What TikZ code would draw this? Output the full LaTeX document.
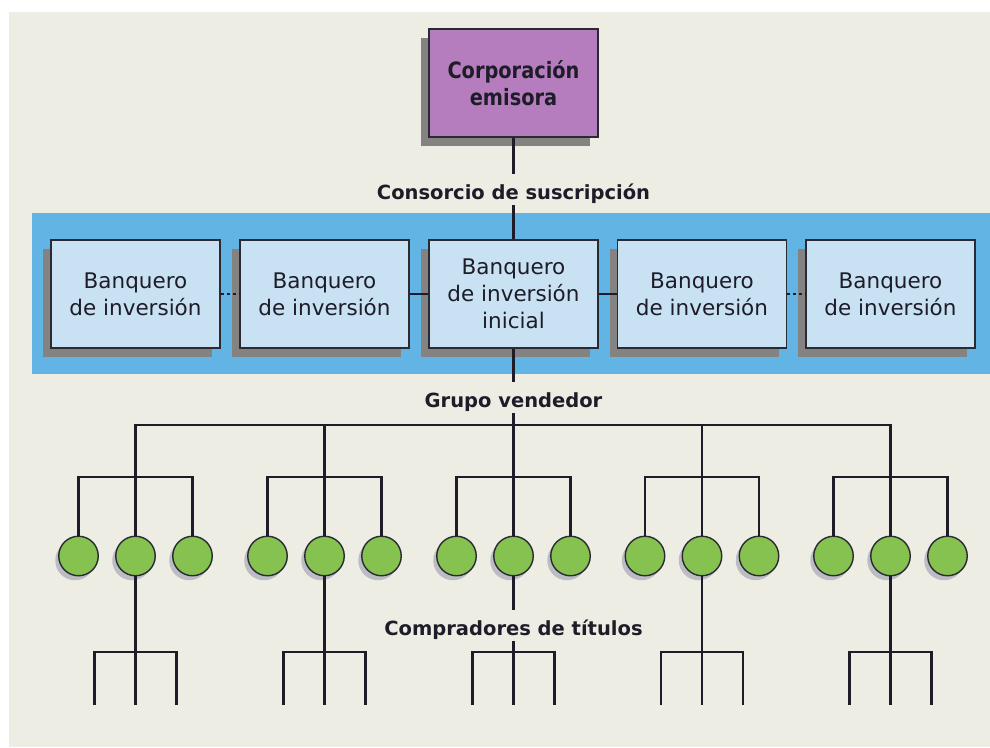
\documentclass[tikz,border=0pt]{standalone}
\usepackage{fontspec}
\setmainfont{DejaVu Sans}
\newfontfamily\condfont[FakeStretch=0.86]{DejaVu Sans}
\usetikzlibrary{shadows}
\definecolor{bgc}{HTML}{EEEDE3}
\definecolor{purp}{HTML}{B57DBE}
\definecolor{bandc}{HTML}{62B4E4}
\definecolor{lblue}{HTML}{C9E2F3}
\definecolor{grn}{HTML}{86C24F}
\definecolor{shd}{HTML}{858381}
\definecolor{cshd}{HTML}{9294AC}
\definecolor{ink}{HTML}{1E1C28}
\definecolor{edgec}{HTML}{2A2A33}
\tikzset{
  boxbase/.style={draw=edgec, line width=1.4pt, minimum width=169pt, minimum height=108pt,
    inner sep=0pt, align=center, text=ink,
    drop shadow={shadow xshift=-8pt, shadow yshift=-8.5pt, fill=shd, opacity=1}},
  corpbox/.style={boxbase, fill=purp, font=\condfont\bfseries\fontsize{22.5}{27}\selectfont},
  bankbox/.style={boxbase, fill=lblue, font=\fontsize{21.5}{27}\selectfont},
  lab/.style={font=\bfseries\fontsize{19.5}{24}\selectfont, text=ink, inner sep=0pt,
    text height=25pt, text depth=6pt, anchor=base},
  dealer/.style={circle, draw=edgec, line width=1.4pt, fill=grn, minimum size=39.5pt, inner sep=0pt,
    drop shadow={shadow xshift=-3.5pt, shadow yshift=-4.5pt, fill=cshd, opacity=0.55}},
  conn/.style={draw=ink, line width=2.4pt},
  dconn/.style={conn, dash pattern=on 3pt off 3pt},
}
\begin{document}
\begin{tikzpicture}[x=1pt,y=-1pt]
\fill[white] (0,0) rectangle (990,747);
\useasboundingbox (0,0) rectangle (990,747);
\fill[bgc] (9,12) rectangle (990,747);
% issuing corporation
\node[corpbox] (corp) at (513.5,83) {Corporación\\emisora};
\node[lab] (consorcio) at (513.5,199) {Consorcio de suscripción};
% underwriting syndicate band
\fill[bandc] (32,213) rectangle (990,374);
\node[bankbox] (b1) at (135.5,294) {Banquero\\de inversión};
\node[bankbox] (b2) at (324.5,294) {Banquero\\de inversión};
\node[bankbox] (b3) at (513.5,294) {Banquero\\de inversión\\inicial};
\node[bankbox] (b4) at (702,294) {Banquero\\de inversión};
\node[bankbox] (b5) at (890.5,294) {Banquero\\de inversión};
\draw[conn] (corp.south) -- (consorcio.north);
\draw[conn] (consorcio.south) -- (b3.north);
\draw[dconn] (b1.east) -- (b2.west);
\draw[conn] (b2.east) -- (b3.west);
\draw[conn] (b3.east) -- (b4.west);
\draw[dconn] (b4.east) -- (b5.west);
% selling group
\node[lab] (grupo) at (513.5,407) {Grupo vendedor};
\node[lab] (compr) at (513.5,635) {Compradores de títulos};
\draw[conn] (b3.south) -- (grupo.north);
\foreach \i/\x in {1/135.5,2/324.5,3/513.5,4/702,5/890.5}{
  \coordinate (h\i) at (\x,425);
  \coordinate (s\i) at ({\x+57},477);
  \coordinate (q\i) at (\x,652);
  \coordinate (qr\i) at ({\x+41},652);
  \coordinate (el\i) at ({\x-41},705);
  \coordinate (em\i) at (\x,705);
  \coordinate (er\i) at ({\x+41},705);
  \node[dealer] (d\i-1) at ({\x-57},556) {};
  \node[dealer] (d\i-2) at (\x,556) {};
  \node[dealer] (d\i-3) at ({\x+57},556) {};
  \draw[conn] (d\i-1.north) |- (s\i) -- (d\i-3.north);
  \draw[conn] (el\i) |- (qr\i) -- (er\i);
  \draw[conn] (q\i) -- (em\i);
}
\draw[conn] (d1-2.north) |- (h5) -- (d5-2.north);
\draw[conn] (h2) -- (d2-2.north);
\draw[conn] (h4) -- (d4-2.north);
\draw[conn] (grupo.south) -- (d3-2.north);
\draw[conn] (d1-2.south) -- (q1);
\draw[conn] (d2-2.south) -- (q2);
\draw[conn] (d4-2.south) -- (q4);
\draw[conn] (d5-2.south) -- (q5);
\draw[conn] (d3-2.south) -- (compr.north);
\draw[conn] (compr.south) -- (q3);
\end{tikzpicture}
\end{document}
